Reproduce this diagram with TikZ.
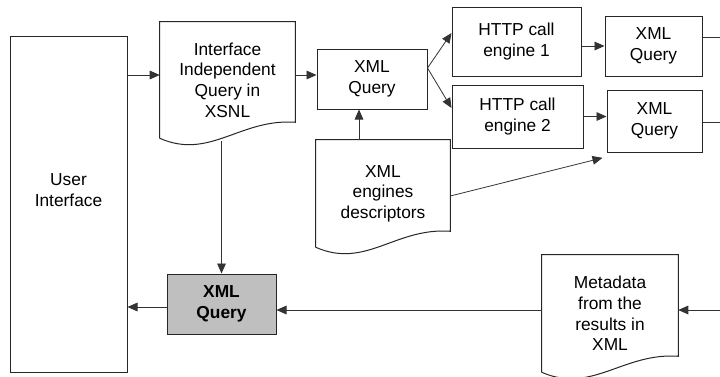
\documentclass[tikz,border=0pt]{standalone}
\usepackage{fontspec}
\setmainfont{Liberation Sans}
\usepackage{tikz}
\usetikzlibrary{arrows.meta}

% outline of a document node: flat top, wavy bottom edge
\newcommand{\docoutline}[1]{%
  \draw[docline] (#1.south west) -- (#1.north west) -- (#1.north east)
    -- ([yshift=12pt]#1.south east)
    .. controls +(-55,-4) and +(50,22) .. (#1.south west);}

\begin{document}
\begin{tikzpicture}[
  x=0.75pt, y=-0.75pt,
  font=\fontsize{13}{15.5}\selectfont,
  every node/.style={align=center, inner sep=0pt},
  box/.style={draw=black!85, line width=0.75pt},
  doc/.style={draw=none},
  docline/.style={black!85, line width=0.75pt},
  arr/.style={-{Triangle[length=7.5pt, width=6.5pt]}, line width=0.6pt, black!80},
  link/.style={line width=0.6pt, black!80},
]
\useasboundingbox (0,0) rectangle (720,376);

% left column
\node[box, minimum width=87.75pt, minimum height=252pt] (ui) at (68.5,204) {};
\node (uitext) at (68.5,190) {User\\Interface};

\node[doc, minimum width=101.25pt, minimum height=87pt] (iq) at (227.5,80)
  {Interface\\Independent\\Query in\\XSNL};
\docoutline{iq}

\node[box, fill=black!25, minimum width=81.75pt, minimum height=45pt, font=\fontsize{13}{15.5}\selectfont\bfseries]
  (gq) at (221.5,304) {XML\\Query};

% middle
\node[box, minimum width=82.5pt, minimum height=45pt] (xq) at (372,79) {XML\\Query};

\node[doc, minimum width=100.5pt, minimum height=80.25pt] (desc) at (383,193.5)
  {XML\\engines\\descriptors};
\docoutline{desc}

% engines
\node[box, minimum width=96.75pt, minimum height=51.75pt] (http1) at (516.5,41.5) {HTTP call\\engine 1};
\node[box, minimum width=98.25pt, minimum height=47.25pt] (http2) at (517.5,116.5) {HTTP call\\engine 2};

\node[box, minimum width=72.75pt, minimum height=45pt] (xr1) at (653.5,46) {XML\\Query};
\node[box, minimum width=71.25pt, minimum height=46.5pt] (xr2) at (654.5,121) {XML\\Query};

\node[doc, minimum width=102pt, minimum height=87.75pt] (meta) at (610,313.5)
  {Metadata\\from the\\results in\\XML};
\docoutline{meta}

% free ends at the right border
\coordinate (out1) at (720,37);
\coordinate (out2) at (720,122);
\coordinate (in3) at (720,310);

% connectors
\draw[arr] (ui.east |- 0,75) -- (iq.west |- 0,75);
\draw[arr] (iq.east |- 0,75) -- (xq.west |- 0,75);
\draw[arr] (xq.east |- 0,68) -- (http1.west |- 0,33);
\draw[arr] (xq.east |- 0,68) -- (http2.west |- 0,108);
\draw[arr] (http1.east |- xr1.west) -- (xr1.west);
\draw[arr] (http2.east) -- (http2.east -| xr2.west);
\draw[link] (xr1.east |- out1) -- (out1);
\draw[link] (xr2.east |- out2) -- (out2);
\draw[arr] (desc.north -| 359,0) -- (xq.south -| 359,0);
\draw[arr] (desc.east |- 0,196) -- ([xshift=-3pt, yshift=-4pt]xr2.south west);
\draw[arr] (gq.north |- 0,141) -- (gq.north);
\draw[arr] (gq.west |- 0,307) -- (ui.east |- 0,307);
\draw[arr] (meta.west |- 0,310) -- (gq.east |- 0,310);
\draw[arr] (in3) -- (meta.east |- in3);

\end{tikzpicture}
\end{document}
